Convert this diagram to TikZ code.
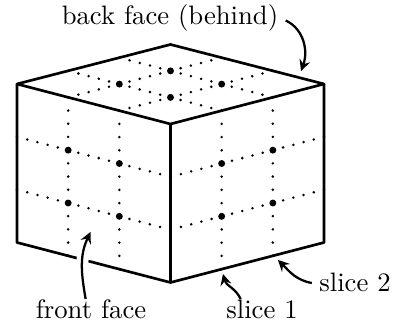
\documentclass[tikz,border=0pt]{standalone}
\usetikzlibrary{calc}
\tikzset{
  edgeline/.style={line width=1pt,line join=round},
  dotsvert/.style={line width=1.05pt,line cap=round,dash pattern=on 0pt off 4.95pt},
  dotsside/.style={line width=1.05pt,line cap=round,dash pattern=on 0pt off 3.96pt},
  gridpoint/.style={circle,fill=black,inner sep=0pt,minimum size=2.6pt},
  callout/.style={line width=0.85pt,->,>=stealth},
  label/.style={inner sep=0pt}
}
\begin{document}
\begin{tikzpicture}[x=0.375pt,y=0.375pt]
\useasboundingbox (0,0) rectangle (402,325);
\coordinate (T) at (170.5,280.5);
\coordinate (L) at (17,241);
\coordinate (R) at (324,241);
\coordinate (F) at (170.5,201);
\coordinate (B) at (170.5,42.5);
\coordinate (BL) at (17,82.5);
\coordinate (BR) at (324,82.5);
% grid lines on the three faces
\foreach \t in {0.3333,0.6667}{
  \draw[dotsvert] ($(L)!\t!(F)$)--($(BL)!\t!(B)$);
  \draw[dotsvert] ($(R)!\t!(F)$)--($(BR)!\t!(B)$);
  \draw[dotsside] ($(L)!\t!(BL)$)--($(F)!\t!(B)$);
  \draw[dotsside] ($(R)!\t!(BR)$)--($(F)!\t!(B)$);
  \draw[dotsside] ($(L)!\t!(T)$)--($(F)!\t!(R)$);
  \draw[dotsside] ($(L)!\t!(F)$)--($(T)!\t!(R)$);
}
\foreach \s in {0.3333,0.6667}{
  \foreach \t in {0.3333,0.6667}{
    \node[gridpoint] at ($($(L)!\s!(F)$)!\t!($(BL)!\s!(B)$)$) {};
    \node[gridpoint] at ($($(R)!\s!(F)$)!\t!($(BR)!\s!(B)$)$) {};
    \node[gridpoint] at ($($(L)!\s!(T)$)!\t!($(F)!\s!(R)$)$) {};
  }
}
% outline
\draw[edgeline] (L)--(T)--(R)--(F)--cycle;
\draw[edgeline] (L)--(BL)--(B)--(BR)--(R);
\draw[edgeline] (F)--(B);
% labels
\node[label] (backlbl) at (170,307.5) {back face (behind)};
\node[label] (frontlbl) at (91,16) {front face};
\node[label] (slicea) at (262,16) {slice 1};
\node[label] (sliceb) at (355,43) {slice 2};
\coordinate (backend) at (301,254);
\coordinate (frontend) at (90.5,93);
\coordinate (sliceaend) at (223,51);
\coordinate (slicebend) at (278,65);
\draw[callout] (backlbl.east)++(7,-3) to[out=-25,in=70] (backend);
\draw[white,line width=4.5pt] (frontlbl.118) to[out=100,in=-115] (frontend);
\draw[callout] (frontlbl.118) to[out=100,in=-115] (frontend);
\draw[callout] (slicea.155) to[out=115,in=-75] (sliceaend);
\draw[callout] (sliceb.west)++(-7,-1) to[out=170,in=-45] (slicebend);
\end{tikzpicture}
\end{document}
